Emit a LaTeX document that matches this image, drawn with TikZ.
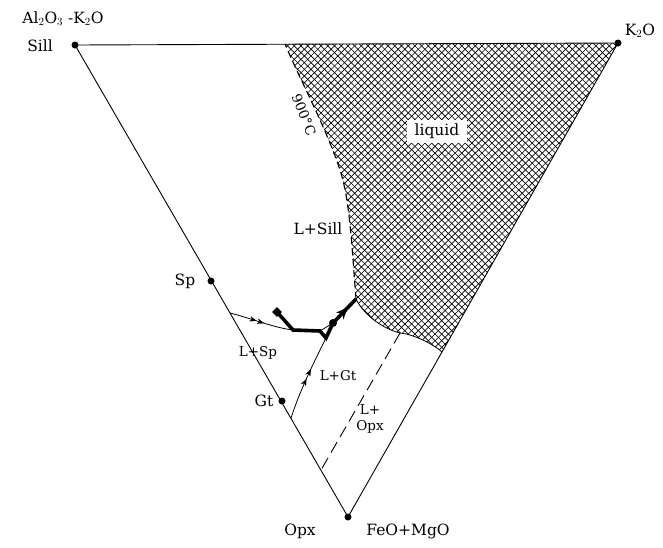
\documentclass[tikz,border=0pt]{standalone}
\usepackage{fontspec}
\setmainfont{DejaVu Serif}
\usetikzlibrary{arrows.meta,decorations.markings}
\begin{document}
\begin{tikzpicture}[x=1pt,y=-1pt,
  edge/.style={line width=0.9pt},
  fine/.style={line width=0.8pt},
  thickpath/.style={line width=3.6pt,line join=miter},
  dotmark/.style={circle,fill=black,inner sep=0pt,minimum size=7pt},
  lbl/.style={font=\fontsize{15.5}{18}\selectfont,inner sep=0pt},
  slbl/.style={font=\fontsize{13.5}{16}\selectfont,inner sep=0pt},
  hatch/.style={line width=0.65pt},
  dashA/.style={dash pattern=on 7pt off 4pt,line width=1.1pt},
  dashB/.style={dash pattern=on 12pt off 6pt,line width=0.9pt},
  arrA/.style={postaction={decorate},decoration={markings,
     mark=at position #1 with {\arrow{Stealth[length=6.5pt,width=5pt]}}}},
  arrB/.style={postaction={decorate},decoration={markings,
     mark=at position #1 with {\arrow{Stealth[length=12pt,width=10pt]}}}},
]
\useasboundingbox (0,0) rectangle (663,547);
% vertices and points
\coordinate (A) at (75,45);
\coordinate (K) at (618,43);
\coordinate (O) at (348,517);
\coordinate (Sp) at (211,281);
\coordinate (Gt) at (282,401);
\coordinate (L0) at (285,44);
\coordinate (L1) at (356,299);
\coordinate (P1) at (400,333);
\coordinate (P2) at (442,352);
\coordinate (D1) at (321,470);
\coordinate (Q0) at (230,313);
\coordinate (Q1) at (293,330);
\coordinate (Q2) at (320,331);
\coordinate (Q3) at (326,338);
\coordinate (Q4) at (333,323);
\coordinate (M) at (277,312);
\coordinate (G1) at (291,418);

% hatched liquid field
\begin{scope}
\clip (L0) -- (K) -- (P2) .. controls (432,343) and (412,334) .. (P1)
  .. controls (380,328) and (362,312) .. (L1)
  .. controls (352,250) and (350,200) .. (340,170)
  .. controls (325,125) and (300,80) .. (L0) -- cycle;
\foreach \c in {-100,-93.3,...,600} {
  \draw[hatch] (\c+20,20) -- (\c+380,380);
}
\foreach \c in {300,306.7,...,1000} {
  \draw[hatch] (\c-20,20) -- (\c-380,380);
}
\end{scope}

% triangle
\draw[edge] (A) -- (K) -- (O) -- cycle;

% liquid boundaries
\draw[fine] (P2) .. controls (432,343) and (412,334) .. (P1)
  .. controls (380,328) and (362,312) .. (L1);
\draw[dashA] (L1) .. controls (352,250) and (350,200) .. (340,170)
  .. controls (325,125) and (300,80) .. (L0);
\draw[dashB] (P1) -- (D1);

% cotectic curves
\draw[fine,arrA=0.42,arrA=0.54] (Q0) .. controls (250,318) and (275,328) .. (Q1);
\draw[fine,arrA=0.48,arrA=0.6] (G1) .. controls (300,390) and (315,360) .. (Q3);
\draw[fine] (Q2) -- (Q4);
\draw[thickpath] (M) -- (Q1) -- (Q2) -- (Q3) -- (Q4) -- (L1);
\draw[line width=0.8pt,arrB=0.65] (Q4) -- (L1);
\node[circle,fill=black,inner sep=0pt,minimum size=8pt] (blob) at (Q4) {};
\node[rectangle,fill=black,inner sep=0pt,minimum size=7pt,rotate=45] (sq) at (M) {};

% dots
\node[dotmark] (dA) at (A) {};
\node[dotmark] (dK) at (K) {};
\node[dotmark] (dO) at (O) {};
\node[dotmark] (dSp) at (Sp) {};
\node[dotmark] (dGt) at (Gt) {};

% labels
\node[lbl] (tA) at (63,19) {Al$_2$O$_3$ -K$_2$O};
\node[lbl] (tSill) at (40,46) {Sill};
\node[lbl] (tK) at (640,31) {K$_2$O};
\node[lbl] (tSp) at (185,281) {Sp};
\node[lbl] (tGt) at (264,401) {Gt};
\node[lbl] (tOpx) at (300,531) {Opx};
\node[lbl] (tFeO) at (408,531) {FeO+MgO};
\node[lbl] (tLS) at (318,229) {L+Sill};
\node[slbl] (tLSp) at (258,353) {L+Sp};
\node[slbl] (tLGt) at (338,376) {L+Gt};
\node[slbl,align=center] (tLO) at (370,419) {L+\\Opx};
\node[lbl,fill=white,inner xsep=8pt,inner ysep=4pt] (tliq) at (437,131) {liquid};
\node[slbl,rotate=-68] (t900) at (304,115) {900°C};
\end{tikzpicture}
\end{document}
